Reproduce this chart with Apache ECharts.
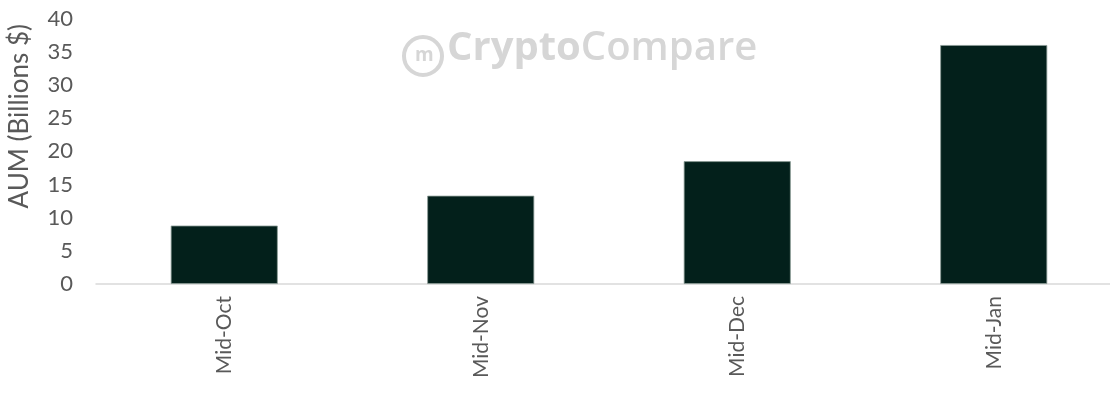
<!DOCTYPE html>
<html>
<head>
<meta charset="utf-8">
<script src="https://cdn.jsdelivr.net/npm/echarts@6/dist/echarts.min.js"></script>
<style>
html,body{margin:0;padding:0;background:#fff;}
#c{width:1110px;height:396px;}
</style>
</head>
<body>
<div id="c"></div>
<script>
const categories = ['Mid-Oct', 'Mid-Nov', 'Mid-Dec', 'Mid-Jan'];
const aumValues = [8.8, 13.3, 18.5, 36.0];
const yTicks = [0, 5, 10, 15, 20, 25, 30, 35, 40];
const yAxisTitle = 'AUM (Billions $)';

const chart = echarts.init(document.getElementById('c'));
chart.setOption({
  animation: false,
  backgroundColor: '#ffffff',
  textStyle: { fontFamily: 'Lato' },
  grid: { left: 96, width: 1026, top: 18.5, height: 265.5, containLabel: false, outerBoundsMode: 'none' },
  xAxis: {
    type: 'category',
    data: categories,
    axisLine: { show: true, lineStyle: { color: '#d9d9d9', width: 1.5 } },
    axisTick: { show: false },
    axisLabel: { rotate: 90, color: '#595959', fontSize: 21, fontFamily: 'Lato', margin: 12 }
  },
  yAxis: {
    type: 'value',
    min: yTicks[0],
    max: yTicks[yTicks.length - 1],
    interval: 5,
    name: yAxisTitle,
    nameLocation: 'middle',
    nameRotate: 90,
    nameGap: 63,
    nameTextStyle: { color: '#595959', fontSize: 26, fontFamily: 'Lato', padding: [0, 0, 0, 70] },
    axisLine: { show: false },
    axisTick: { show: false },
    splitLine: { show: false },
    axisLabel: { color: '#595959', fontSize: 22, fontFamily: 'Lato', margin: 23 }
  },
  graphic: [
    {
      type: 'circle',
      shape: { cx: 423, cy: 56, r: 19 },
      style: { fill: 'none', stroke: '#d6d6d6', lineWidth: 4 },
      silent: true
    },
    {
      type: 'text',
      left: 415, top: 46,
      style: { text: 'm', fill: '#d6d6d6', font: 'bold 19px "Open Sans"' },
      silent: true
    },
    {
      type: 'text',
      left: 447, top: 29,
      style: {
        text: '{b|Crypto}{n|Compare}',
        rich: {
          b: { fill: '#d6d6d6', fontSize: 40, fontWeight: 'bold', fontFamily: 'Open Sans' },
          n: { fill: '#d6d6d6', fontSize: 40, fontWeight: 600, fontFamily: 'Open Sans' }
        }
      },
      silent: true
    }
  ],
  series: [{
    type: 'bar',
    data: aumValues,
    barWidth: 107,
    itemStyle: { color: '#03201b', borderColor: '#8a9a96', borderWidth: 0.8 }
  }]
});
</script>
</body>
</html>
